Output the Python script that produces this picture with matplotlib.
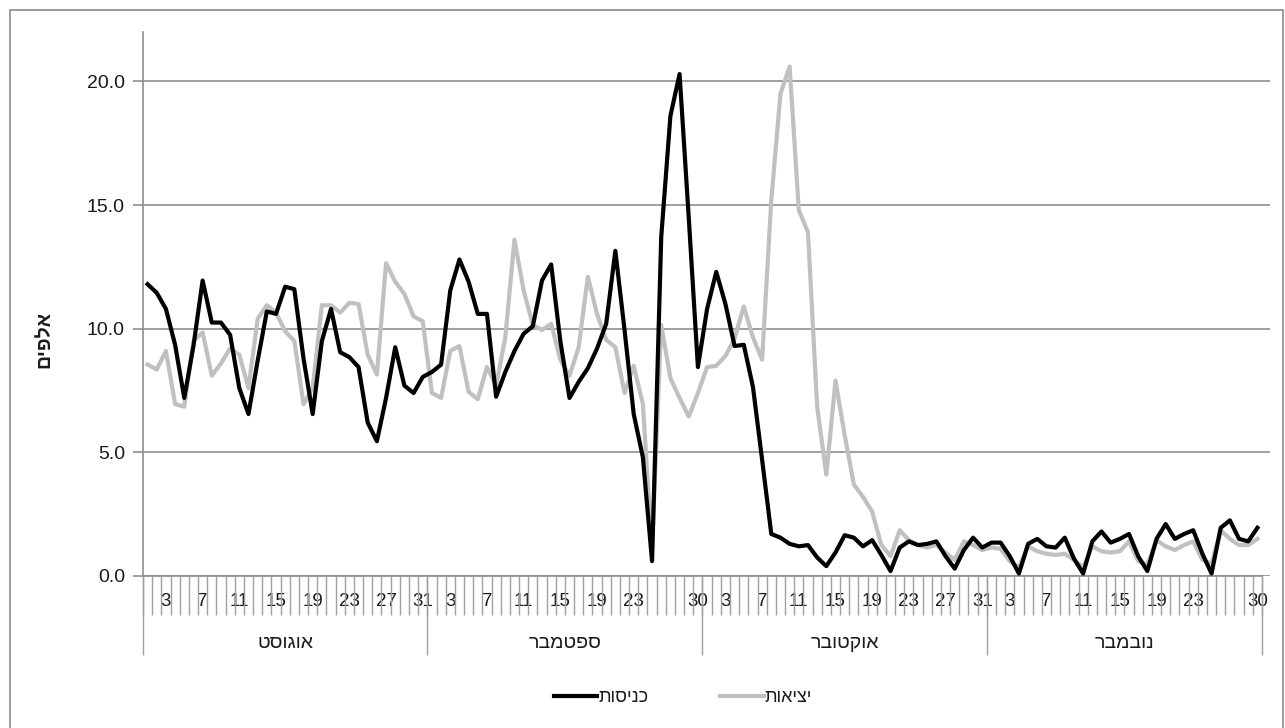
import matplotlib.pyplot as plt
import numpy as np
from matplotlib.patches import Rectangle

plt.rcParams['font.family'] = ['Liberation Sans', 'DejaVu Sans']

# daily values, thousands
aug_in = [11.8, 11.45, 10.8, 9.35, 7.2, 9.3, 11.95, 10.25, 10.25, 9.75, 7.6, 6.55, 8.7, 10.7, 10.6, 11.7,
          11.6, 8.8, 6.55, 9.5, 10.8, 9.05, 8.85, 8.45, 6.2, 5.45, 7.2, 9.25, 7.7, 7.4, 8.05]
sep_in = [8.25, 8.55, 11.55, 12.8, 11.9, 10.6, 10.6, 7.25, 8.25, 9.1, 9.8, 10.1, 11.95, 12.6, 9.5,
          7.2, 7.85, 8.4, 9.2, 10.2, 13.15, 9.95, 6.55, 4.8, 0.6, 13.7, 18.6, 20.3, 14.5, 8.45]
oct_in = [10.8, 12.3, 11.0, 9.3, 9.35, 7.65, 4.7, 1.7, 1.55, 1.3, 1.2, 1.25, 0.75, 0.4, 0.95, 1.65,
          1.55, 1.2, 1.45, 0.85, 0.2, 1.15, 1.4, 1.25, 1.3, 1.4, 0.8, 0.3, 1.05, 1.55, 1.15]
nov_in = [1.35, 1.35, 0.8, 0.1, 1.3, 1.5, 1.2, 1.15, 1.55, 0.7, 0.1, 1.4, 1.8, 1.35, 1.5,
          1.7, 0.8, 0.2, 1.5, 2.1, 1.5, 1.7, 1.85, 0.9, 0.1, 1.95, 2.25, 1.5, 1.4, 1.95]

aug_out = [8.55, 8.35, 9.1, 6.95, 6.85, 9.5, 9.85, 8.1, 8.6, 9.2, 8.95, 7.6, 10.4, 10.95, 10.65, 9.9,
           9.5, 6.95, 7.6, 10.95, 10.95, 10.65, 11.05, 11.0, 8.95, 8.15, 12.65, 11.9, 11.4, 10.5, 10.3]
sep_out = [7.4, 7.2, 9.1, 9.3, 7.45, 7.15, 8.45, 7.7, 9.65, 13.6, 11.55, 10.15, 9.95, 10.2, 8.75,
           8.1, 9.25, 12.1, 10.6, 9.55, 9.25, 7.4, 8.5, 6.95, 1.1, 10.15, 8.0, 7.2, 6.45, 7.4]
oct_out = [8.45, 8.5, 8.9, 9.6, 10.9, 9.65, 8.75, 15.2, 19.5, 20.6, 14.8, 13.9, 6.85, 4.1, 7.9, 5.7,
           3.7, 3.2, 2.6, 1.25, 0.8, 1.85, 1.45, 1.25, 1.15, 1.25, 0.95, 0.65, 1.4, 1.25, 1.05]
nov_out = [1.15, 1.1, 0.6, 0.35, 1.2, 1.0, 0.9, 0.85, 0.9, 0.65, 0.35, 1.2, 1.0, 0.95, 1.0,
           1.4, 0.6, 0.45, 1.45, 1.2, 1.05, 1.25, 1.4, 0.65, 0.5, 1.85, 1.5, 1.25, 1.25, 1.5]

months = ['אוגוסט', 'ספטמבר', 'אוקטובר', 'נובמבר']
month_days = [31, 30, 31, 30]
day_labels = [[3, 7, 11, 15, 19, 23, 27, 31],
              [3, 7, 11, 15, 19, 23, 30],
              [3, 7, 11, 15, 19, 23, 27, 31],
              [3, 7, 11, 15, 19, 23, 30]]
y_ticks = [0, 5, 10, 15, 20]


def rtl(s):
    # matplotlib has no bidi support, so flip hebrew strings by hand
    return s[::-1]


entries = aug_in + sep_in + oct_in + nov_in
exits = aug_out + sep_out + oct_out + nov_out
x = np.arange(len(entries))
n = len(entries)

W, H = 1285, 728
fig = plt.figure(figsize=(W / 100, H / 100), dpi=100)
ax = fig.add_axes([143 / W, 1 - 576 / H, (1270 - 143) / W, (576 - 32) / H])

grid_c = '#8f8f8f'
txt_c = '#1a1a1a'

l_out, = ax.plot(x, exits, color='#c0c0c0', lw=3, label=rtl('יציאות'), zorder=3)
l_in, = ax.plot(x, entries, color='black', lw=3, label=rtl('כניסות'), zorder=4)

ax.set_ylim(0, 22)
ax.set_xlim(-0.5, n - 0.5 + 8 / 9.17)
ax.set_yticks(y_ticks)
ax.set_yticklabels([f'{v:.1f}' for v in y_ticks])
ax.yaxis.grid(True, color=grid_c, lw=1.2)
ax.set_axisbelow(True)
ax.tick_params(axis='y', length=7, color=grid_c, width=1.2, labelsize=14, labelcolor=txt_c, pad=6)

for s in ['top', 'right']:
    ax.spines[s].set_visible(False)
ax.spines['left'].set_color(grid_c)
ax.spines['left'].set_linewidth(1.2)
ax.spines['bottom'].set_color(grid_c)
ax.spines['bottom'].set_linewidth(1.2)
ax.spines['bottom'].set_bounds(-0.5, n - 0.5)

# day ticks between every category
ax.set_xticks(np.arange(-0.5, n, 1), minor=True)
ax.tick_params(axis='x', which='minor', length=28, color='#a0a0a0', width=1)

starts = np.concatenate([[0], np.cumsum(month_days)])
pos, labs = [], []
for m, days in enumerate(day_labels):
    for d in days:
        pos.append(starts[m] + d - 1)
        labs.append(str(d))
ax.set_xticks(pos)
ax.set_xticklabels(labs)
ax.tick_params(axis='x', which='major', length=0, pad=12, labelsize=13.5, labelcolor=txt_c)

# month separators and names
ax.vlines(starts - 0.5, -79 / 544, 0, transform=ax.get_xaxis_transform(),
          clip_on=False, color='#a0a0a0', lw=1)
for m, name in enumerate(months):
    c = (starts[m] + starts[m + 1] - 1) / 2
    ax.text(c, -(643 - 576) / 544, rtl(name), transform=ax.get_xaxis_transform(),
            ha='center', va='center', fontsize=14, color=txt_c)

fig.text(45 / W, 1 - 340 / H, rtl('אלפים'), rotation=90, fontweight='bold',
         ha='center', va='center', fontsize=14, color=txt_c)

ax.legend(handles=[l_in, l_out], loc='center', bbox_to_anchor=(683 / W, 1 - 698 / H),
          bbox_transform=fig.transFigure, ncol=2, frameon=False, handlelength=2.4,
          handletextpad=0.05, columnspacing=4.0, fontsize=13, labelcolor=txt_c)

fig.add_artist(Rectangle((10 / W, -0.02), 1273 / W, 1 - 10 / H + 0.02, transform=fig.transFigure,
                         fill=False, edgecolor='#8a8a8a', lw=1.2))

fig.savefig('out.png', dpi=100, facecolor='white')
